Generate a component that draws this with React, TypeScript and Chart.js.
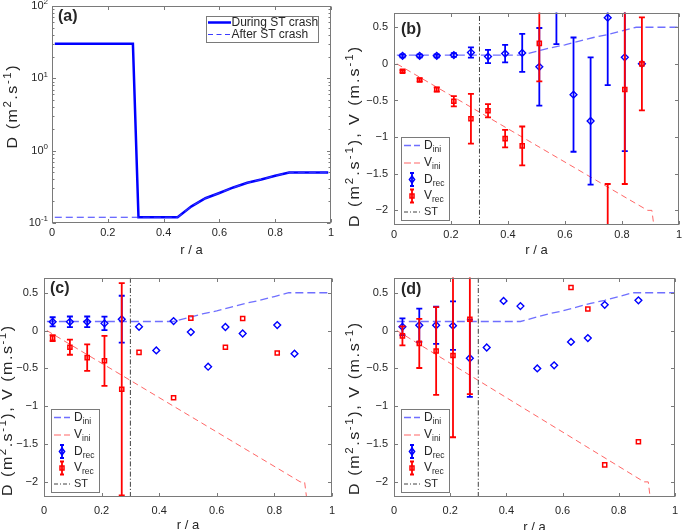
import { useEffect, useRef } from "react";
import { Chart, registerables } from "chart.js";
Chart.register(...registerables);

// ---------------- data ----------------
const xTicks = [0, 0.2, 0.4, 0.6, 0.8, 1];
const xTickLabels = ["0", "0.2", "0.4", "0.6", "0.8", "1"];
const dvTicks = [-2, -1.5, -1, -0.5, 0, 0.5];
const dvTickLabels = ["\u22122", "\u22121.5", "\u22121", "\u22120.5", "0", "0.5"];
const logTicks = [0.1, 1, 10, 100];
const logTickExp = ["-1", "0", "1", "2"];
const logMinorTicks = [0.2, 0.3, 0.4, 0.5, 0.6, 0.7, 0.8, 0.9, 2, 3, 4, 5, 6, 7, 8, 9, 20, 30, 40, 50, 60, 70, 80, 90];

// panel (a)
const duringR = [0.01, 0.29, 0.31, 0.45, 0.5, 0.55, 0.6, 0.65, 0.7, 0.75, 0.8, 0.85, 0.99];
const duringD = [30, 30, 0.12, 0.12, 0.17, 0.22, 0.26, 0.31, 0.36, 0.4, 0.45, 0.5, 0.5];
const afterR = [0.01, 0.31, 0.45, 0.5, 0.55, 0.6, 0.65, 0.7, 0.75, 0.8, 0.85, 0.99];
const afterD = [0.12, 0.12, 0.12, 0.17, 0.22, 0.26, 0.31, 0.36, 0.4, 0.45, 0.5, 0.5];

// initial profiles (b, c, d)
const iniR = [0.01, 0.45, 0.5, 0.55, 0.6, 0.65, 0.7, 0.75, 0.8, 0.85, 1.0];
const dIni = [0.12, 0.12, 0.17, 0.22, 0.26, 0.31, 0.36, 0.4, 0.45, 0.5, 0.5];
const vIniR = [0.01, 0.89, 0.905, 0.925];
const vIni = [0, -2.0, -2.0, -2.6];
const stR = 0.3;

// reconstruction radii
const rRec = [0.03, 0.09, 0.15, 0.21, 0.27, 0.33, 0.39, 0.45, 0.51, 0.57, 0.63, 0.69, 0.75, 0.81, 0.87];

// panel (b)
const bD = [0.11, 0.11, 0.11, 0.12, 0.155, 0.1, 0.14, 0.15, -0.04, 0.85, -0.42, -0.78, 0.63, 0.09, 0.0];
const bDErr = [0.02, 0.02, 0.02, 0.025, 0.07, 0.09, 0.12, 0.26, 0.53, 0.58, 0.78, 0.87, 0.92, 1.28, 0];
const bV = [-0.1, -0.22, -0.35, -0.51, -0.75, -0.64, -1.02, -1.12, 0.28, null, null, null, -2.6, -0.35, 0.0];
const bVErr = [0.015, 0.02, 0.03, 0.07, 0.34, 0.09, 0.12, 0.265, 0.52, 0, 0, 0, 0.96, 1.29, 0.635];

// panel (c)
const cD = [0.116, 0.116, 0.116, 0.095, 0.15, 0.05, -0.263, 0.125, -0.02, -0.478, 0.047, -0.039, null, 0.073, -0.306];
const cDErr = [0.06, 0.07, 0.07, 0.09, 0.31, 0, 0, 0, 0, 0, 0, 0, 0, 0, 0];
const cV = [-0.1, -0.22, -0.358, -0.4, -0.776, -0.289, null, -0.888, 0.164, null, -0.22, 0.16, null, -0.297, null];
const cVErr = [0.04, 0.1, 0.175, 0.33, 1.404, 0, 0, 0, 0, 0, 0, 0, 0, 0, 0];

// panel (d)
const dD = [0.05, 0.07, 0.07, 0.065, -0.366, -0.224, 0.392, 0.323, -0.5, -0.46, -0.15, -0.099, 0.34, null, 0.4];
const dDErr = [0.11, 0.22, 0.245, 0.32, 0.51, 0, 0, 0, 0, 0, 0, 0, 0, 0, 0];
const dV = [-0.07, -0.17, -0.27, -0.33, 0.15, null, null, null, null, null, 0.57, 0.284, -1.776, null, -1.47];
const dVErr = [0.125, 0.325, 0.58, 1.08, 0.99, 0, 0, 0, 0, 0, 0, 0, 0, 0, 0];

// ---------------- style ----------------
const FONT = "'Liberation Sans', Arial, Helvetica, sans-serif";
const TEXT = "#262626";
const FRAME = "#7a7a7a";
const BLUE = "#0000ff";
const RED = "#ff0000";
const INI_BLUE = "rgba(95,95,255,0.9)";
const INI_RED = "rgba(255,85,85,0.9)";
const ST_COLOR = "#404040";

type Seg = { t: string; s?: number };
const yTitleA: Seg[] = [{ t: "D (m" }, { t: "2", s: 1 }, { t: ".s" }, { t: "-1", s: 1 }, { t: ")" }];
const yTitleDV: Seg[] = [
  { t: "D (m" }, { t: "2", s: 1 }, { t: ".s" }, { t: "-1", s: 1 },
  { t: "), V (m.s" }, { t: "-1", s: 1 }, { t: ")" },
];

const panels = [
  { id: "a", label: "(a)", left: 0, top: 0, w: 342, h: 265, pad: { left: 0, right: 11, top: 6, bottom: 0 }, yW: 52, xH: 42, xPad: 3, yTitle: yTitleA, yTX: 13, yTY: 107, yLen: 83, xTY: 250, lblDx: 6, lblDy: 11 },
  { id: "b", label: "(b)", left: 342, top: 0, w: 343, h: 265, pad: { left: 0, right: 4, top: 0, bottom: 0 }, yW: 52, xH: 40, xPad: 3, yTitle: yTitleDV, yTX: 13, yTY: 137, yLen: 180, xTY: 250, lblDx: 7, lblDy: 17 },
  { id: "c", label: "(c)", left: 0, top: 265, w: 342, h: 265, pad: { left: 0, right: 10, top: 8, bottom: 0 }, yW: 44, xH: 33, xPad: 7, yTitle: yTitleDV, yTX: 8, yTY: 146, yLen: 170, xTY: 260, lblDx: 6, lblDy: 11 },
  { id: "d", label: "(d)", left: 342, top: 265, w: 343, h: 265, pad: { left: 0, right: 4, top: 8, bottom: 0 }, yW: 52, xH: 33, xPad: 7, yTitle: yTitleDV, yTX: 13, yTY: 144, yLen: 172, xTY: 262, lblDx: 7, lblDy: 12 },
];

const recSets: Record<string, { D: (number | null)[]; DE: number[]; V: (number | null)[]; VE: number[] }> = {
  b: { D: bD, DE: bDErr, V: bV, VE: bVErr },
  c: { D: cD, DE: cDErr, V: cV, VE: cVErr },
  d: { D: dD, DE: dDErr, V: dV, VE: dVErr },
};

// ---------------- helpers ----------------
function xy(xs: number[], ys: number[]) {
  return xs.map((x, i) => ({ x, y: ys[i] }));
}

function drawRich(ctx: CanvasRenderingContext2D, segs: Seg[], x: number, y: number, size: number, small: number, rise: number, sp = 0) {
  ctx.textBaseline = "middle";
  ctx.textAlign = "left";
  for (const s of segs) {
    ctx.font = `${s.s ? small : size}px ${FONT}`;
    const dy = s.s === 1 ? -rise : s.s === -1 ? rise : 0;
    if (sp === 0) {
      ctx.fillText(s.t, x, y + dy);
      x += ctx.measureText(s.t).width;
    } else {
      for (const ch of s.t) {
        ctx.fillText(ch, x, y + dy);
        x += ctx.measureText(ch).width + sp;
      }
    }
  }
}
function richWidth(ctx: CanvasRenderingContext2D, segs: Seg[], size: number, small: number) {
  let w = 0;
  for (const s of segs) {
    ctx.font = `${s.s ? small : size}px ${FONT}`;
    w += ctx.measureText(s.t).width;
  }
  return w;
}
function richChars(segs: Seg[]) {
  return segs.reduce((n, s) => n + s.t.length, 0);
}

function drawMarker(ctx: CanvasRenderingContext2D, kind: string, x: number, y: number, color: string) {
  ctx.save();
  ctx.strokeStyle = color;
  ctx.lineWidth = 1.5;
  ctx.beginPath();
  if (kind === "diamond") {
    ctx.moveTo(x, y - 3.5); ctx.lineTo(x + 2.6, y); ctx.lineTo(x, y + 3.5); ctx.lineTo(x - 2.6, y); ctx.closePath();
  } else {
    ctx.rect(x - 2, y - 2, 4, 4);
  }
  ctx.stroke();
  ctx.restore();
}

const errPlugin = {
  id: "errbars",
  beforeDatasetDraw(chart: any, args: any) {
    const ds = chart.data.datasets[args.index];
    if (!ds.errColor) return;
    const ctx = chart.ctx as CanvasRenderingContext2D;
    const ca = chart.chartArea;
    const xs = chart.scales.x, ys = chart.scales.y;
    ctx.save();
    ctx.beginPath();
    ctx.rect(ca.left, ca.top, ca.right - ca.left, ca.bottom - ca.top);
    ctx.clip();
    ctx.strokeStyle = ds.errColor;
    ctx.lineWidth = 1.8;
    for (const p of ds.data) {
      if (!p.e) continue;
      const x = xs.getPixelForValue(p.x);
      const y1 = ys.getPixelForValue(p.y + p.e);
      const y2 = ys.getPixelForValue(p.y - p.e);
      ctx.beginPath();
      ctx.moveTo(x, y1); ctx.lineTo(x, y2);
      ctx.moveTo(x - 3, y1); ctx.lineTo(x + 3, y1);
      ctx.moveTo(x - 3, y2); ctx.lineTo(x + 3, y2);
      ctx.stroke();
    }
    ctx.restore();
  },
};

const Y_FONT = 14;
const Y_SUP = 10;
const Y_STRETCH = 1.15;

function annotPlugin(cfg: any) {
  return {
    id: "annot",
    afterDraw(chart: any) {
      const ctx = chart.ctx as CanvasRenderingContext2D;
      const ca = chart.chartArea;
      const xs = chart.scales.x, ys = chart.scales.y;
      const L = Math.round(ca.left) + 0.5, R = Math.round(ca.right) - 0.5;
      const T = Math.round(ca.top) + 0.5, B = Math.round(ca.bottom) - 0.5;
      ctx.save();
      // frame
      ctx.strokeStyle = FRAME;
      ctx.lineWidth = 1;
      ctx.strokeRect(L, T, R - L, B - T);
      // inward ticks
      ctx.beginPath();
      for (const v of xTicks) {
        const px = Math.round(xs.getPixelForValue(v)) + 0.5;
        ctx.moveTo(px, B); ctx.lineTo(px, B - 3.5);
        ctx.moveTo(px, T); ctx.lineTo(px, T + 3.5);
      }
      const yt = cfg.id === "a" ? logTicks : dvTicks;
      for (const v of yt) {
        const py = Math.round(ys.getPixelForValue(v)) + 0.5;
        ctx.moveTo(L, py); ctx.lineTo(L + 3.5, py);
        ctx.moveTo(R, py); ctx.lineTo(R - 3.5, py);
      }
      if (cfg.id === "a") {
        for (const v of logMinorTicks) {
          const py = Math.round(ys.getPixelForValue(v)) + 0.5;
          ctx.moveTo(L, py); ctx.lineTo(L + 2, py);
          ctx.moveTo(R, py); ctx.lineTo(R - 2, py);
        }
      }
      ctx.stroke();

      ctx.fillStyle = TEXT;
      // log tick labels for (a)
      if (cfg.id === "a") {
        logTicks.forEach((v, i) => {
          const py = ys.getPixelForValue(v);
          const segs: Seg[] = [{ t: "10" }, { t: logTickExp[i], s: 1 }];
          const w = richWidth(ctx, segs, 11, 8);
          drawRich(ctx, segs, ca.left - 4 - w, py, 11, 8, 4);
        });
      }
      // x title
      ctx.font = `13px ${FONT}`;
      ctx.textAlign = "center";
      ctx.textBaseline = "middle";
      ctx.fillText("r / a", (ca.left + ca.right) / 2, cfg.xTY);
      // y title (rotated)
      ctx.save();
      ctx.translate(cfg.yTX, cfg.yTY);
      ctx.rotate(-Math.PI / 2);
      ctx.scale(Y_STRETCH, 1);
      const tw = richWidth(ctx, cfg.yTitle, Y_FONT, Y_SUP);
      const n = richChars(cfg.yTitle);
      const sp = Math.max(0, (cfg.yLen / Y_STRETCH - tw) / (n - 1));
      const total = tw + sp * (n - 1);
      drawRich(ctx, cfg.yTitle, -total / 2, 0, Y_FONT, Y_SUP, 5, sp);
      ctx.restore();
      // panel label
      ctx.fillStyle = TEXT;
      ctx.font = `bold 16px ${FONT}`;
      ctx.textAlign = "left";
      ctx.textBaseline = "middle";
      ctx.fillText(cfg.label, ca.left + cfg.lblDx, ca.top + cfg.lblDy);

      // legend
      if (cfg.id === "a") {
        const bx = ca.right - 125, by = ca.top + 10, bw = 112, bh = 26;
        ctx.fillStyle = "#fff";
        ctx.fillRect(bx, by, bw, bh);
        ctx.strokeStyle = FRAME;
        ctx.lineWidth = 1;
        ctx.strokeRect(Math.round(bx) + 0.5, Math.round(by) + 0.5, bw, bh);
        ctx.strokeStyle = BLUE;
        ctx.lineWidth = 2.5;
        ctx.beginPath(); ctx.moveTo(bx + 2, by + 6.5); ctx.lineTo(bx + 25, by + 6.5); ctx.stroke();
        ctx.lineWidth = 1.2;
        ctx.strokeStyle = "rgba(50,50,255,0.95)";
        ctx.setLineDash([5, 3.5]);
        ctx.beginPath(); ctx.moveTo(bx + 2, by + 18.5); ctx.lineTo(bx + 25, by + 18.5); ctx.stroke();
        ctx.setLineDash([]);
        ctx.fillStyle = TEXT;
        ctx.font = `12px ${FONT}`;
        ctx.textBaseline = "middle";
        ctx.fillText("During ST crash", bx + 25.5, by + 6.5);
        ctx.fillText("After ST crash", bx + 25.5, by + 18.5);
      } else {
        const bw = 48, bh = 83;
        const bx = Math.round(ca.left + 7), by = Math.round(ca.bottom - 5 - bh);
        ctx.fillStyle = "#fff";
        ctx.fillRect(bx, by, bw, bh);
        ctx.strokeStyle = FRAME;
        ctx.lineWidth = 1;
        ctx.strokeRect(bx + 0.5, by + 0.5, bw, bh);
        const rows = [8.5, 26, 42.5, 59, 75];
        const lx1 = bx + 3, lx2 = bx + 19, lxm = bx + 11;
        ctx.strokeStyle = INI_BLUE; ctx.lineWidth = 1.3; ctx.setLineDash([7, 3]);
        ctx.beginPath(); ctx.moveTo(lx1, by + rows[0]); ctx.lineTo(lx2, by + rows[0]); ctx.stroke();
        ctx.strokeStyle = INI_RED; ctx.lineWidth = 1.1; ctx.setLineDash([7, 3]);
        ctx.beginPath(); ctx.moveTo(lx1, by + rows[1]); ctx.lineTo(lx2, by + rows[1]); ctx.stroke();
        ctx.strokeStyle = ST_COLOR; ctx.lineWidth = 1; ctx.setLineDash([4, 2, 1, 2]);
        ctx.beginPath(); ctx.moveTo(lx1, by + rows[4]); ctx.lineTo(lx2, by + rows[4]); ctx.stroke();
        ctx.setLineDash([]);
        const eb = (y: number, col: string, kind: string) => {
          ctx.strokeStyle = col; ctx.lineWidth = 1.8;
          ctx.beginPath();
          ctx.moveTo(lxm, y - 6.5); ctx.lineTo(lxm, y + 6.5);
          ctx.moveTo(lxm - 2, y - 6.5); ctx.lineTo(lxm + 2, y - 6.5);
          ctx.moveTo(lxm - 2, y + 6.5); ctx.lineTo(lxm + 2, y + 6.5);
          ctx.stroke();
          drawMarker(ctx, kind, lxm, y, col);
        };
        eb(by + rows[2], BLUE, "diamond");
        eb(by + rows[3], RED, "square");
        ctx.fillStyle = TEXT;
        const tx = bx + 23;
        drawRich(ctx, [{ t: "D" }, { t: "ini", s: -1 }], tx, by + rows[0], 12, 8.5, 4);
        drawRich(ctx, [{ t: "V" }, { t: "ini", s: -1 }], tx, by + rows[1], 12, 8.5, 4);
        drawRich(ctx, [{ t: "D" }, { t: "rec", s: -1 }], tx, by + rows[2], 12, 8.5, 4);
        drawRich(ctx, [{ t: "V" }, { t: "rec", s: -1 }], tx, by + rows[3], 12, 8.5, 4);
        drawRich(ctx, [{ t: "ST" }], tx, by + rows[4], 11, 8.5, 4);
      }
      ctx.restore();
    },
  };
}

function buildConfig(cfg: any): any {
  const isA = cfg.id === "a";
  let datasets: any[];
  if (isA) {
    datasets = [
      { data: xy(afterR, afterD), showLine: true, borderColor: "rgba(50,50,255,0.95)", borderWidth: 1.2, borderDash: [7, 4], pointRadius: 0 },
      { data: xy(duringR, duringD), showLine: true, borderColor: BLUE, borderWidth: 2.5, pointRadius: 0 },
    ];
  } else {
    const s = recSets[cfg.id];
    const recD = rRec.map((x, i) => ({ x, y: s.D[i], e: s.DE[i] })).filter((p) => p.y !== null);
    const recV = rRec.map((x, i) => ({ x, y: s.V[i], e: s.VE[i] })).filter((p) => p.y !== null);
    datasets = [
      { data: [{ x: stR, y: -2.2 }, { x: stR, y: 0.7 }], showLine: true, borderColor: ST_COLOR, borderWidth: 1, borderDash: [5, 2, 1.2, 2], pointRadius: 0 },
      { data: recV, showLine: false, pointStyle: "rect", pointRadius: 2.9, borderColor: RED, backgroundColor: "rgba(0,0,0,0)", pointBorderWidth: 1.5, errColor: RED },
      { data: recD, showLine: false, pointStyle: "rectRot", pointRadius: 3.4, borderColor: BLUE, backgroundColor: "rgba(0,0,0,0)", pointBorderWidth: 1.4, errColor: BLUE },
      { data: xy(vIniR, vIni), showLine: true, borderColor: INI_RED, borderWidth: 1, borderDash: [6, 4], pointRadius: 0 },
      { data: xy(iniR, dIni), showLine: true, borderColor: INI_BLUE, borderWidth: 1.3, borderDash: [8, 4], pointRadius: 0 },
    ];
  }
  datasets.forEach((d) => (d.clip = 0));
  return {
    type: "scatter",
    data: { datasets },
    options: {
      animation: false,
      responsive: false,
      devicePixelRatio: 1,
      layout: { padding: cfg.pad },
      plugins: { legend: { display: false }, tooltip: { enabled: false } },
      events: [],
      scales: {
        x: {
          type: "linear",
          min: 0,
          max: 1,
          grid: { display: false, drawTicks: false },
          border: { display: false },
          afterBuildTicks: (sc: any) => { sc.ticks = xTicks.map((value) => ({ value })); },
          afterFit: (sc: any) => { sc.height = cfg.xH; },
          ticks: {
            autoSkip: false,
            maxRotation: 0,
            padding: cfg.xPad,
            color: TEXT,
            font: { family: FONT, size: 11 },
            callback: (_v: any, i: number) => xTickLabels[i],
          },
        },
        y: isA
          ? {
              type: "logarithmic",
              min: 0.1,
              max: 100,
              grid: { display: false, drawTicks: false },
              border: { display: false },
              afterBuildTicks: (sc: any) => { sc.ticks = logTicks.map((value) => ({ value })); },
              afterFit: (sc: any) => { sc.width = cfg.yW; },
              ticks: { display: false },
            }
          : {
              type: "linear",
              min: -2.2,
              max: 0.7,
              grid: { display: false, drawTicks: false },
              border: { display: false },
              afterBuildTicks: (sc: any) => { sc.ticks = dvTicks.map((value) => ({ value })); },
              afterFit: (sc: any) => { sc.width = cfg.yW; },
              ticks: {
                autoSkip: false,
                padding: 6,
                color: TEXT,
                font: { family: FONT, size: 11 },
                callback: (_v: any, i: number) => dvTickLabels[i],
              },
            },
      },
    },
    plugins: [errPlugin, annotPlugin(cfg)],
  };
}

function Panel({ cfg }: { cfg: any }) {
  const ref = useRef<HTMLCanvasElement>(null);
  useEffect(() => {
    const chart = new Chart(ref.current as HTMLCanvasElement, buildConfig(cfg));
    return () => chart.destroy();
  }, []);
  return (
    <canvas
      ref={ref}
      width={cfg.w}
      height={cfg.h}
      style={{ position: "absolute", left: cfg.left, top: cfg.top, width: cfg.w, height: cfg.h }}
    />
  );
}

export default function App() {
  return (
    <div style={{ position: "fixed", left: 0, top: 0, width: 685, height: 530, background: "#fff", overflow: "hidden" }}>
      {panels.map((p) => (
        <Panel key={p.id} cfg={p} />
      ))}
    </div>
  );
}
